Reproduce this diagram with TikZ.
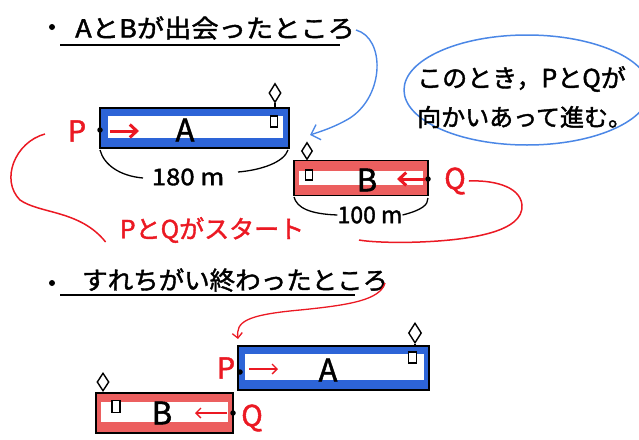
\documentclass[tikz,border=0pt]{standalone}
\usepackage{fontspec}
\setmainfont{Noto Sans CJK JP}[FakeBold=1.6]
\usetikzlibrary{arrows.meta,shapes.geometric}
\definecolor{pblue}{RGB}{45,100,215}
\definecolor{lblue}{RGB}{75,135,230}
\definecolor{pred}{RGB}{235,25,35}
\definecolor{bandred}{RGB}{236,95,95}
\tikzset{
  trainA/.style={draw=black, line width=1.3pt, fill=pblue, inner sep=0pt},
  trainB/.style={draw=black, line width=1.3pt, fill=bandred, inner sep=0pt},
  innerw/.style={fill=white, inner sep=0pt},
  panto/.style={diamond, draw=black, line width=1.4pt, fill=white, inner sep=0pt},
  window/.style={rectangle, draw=black, line width=1.3pt, fill=white, inner sep=0pt},
  bigletter/.style={font=\fontsize{31}{31}\selectfont, inner sep=0pt},
  lab/.style={font=\fontsize{29}{29}\selectfont, text=pred, inner sep=0pt},
  title/.style={font=\fontsize{25}{25}\selectfont, inner sep=0pt},
  dist/.style={font=\fontsize{23}{23}\selectfont, inner sep=0pt},
  dot/.style={circle, fill=black, inner sep=0pt, minimum size=5.5pt},
  bull/.style={circle, fill=black, inner sep=0pt, minimum size=6pt},
  thickred/.style={draw=pred, line width=3pt, -{Straight Barb[length=7pt,width=13pt]}},
  thinred/.style={draw=pred, line width=1.3pt, -{Straight Barb[length=5pt,width=10pt]}},
  brace/.style={draw=black, line width=1.3pt},
  redcurve/.style={draw=pred, line width=1.5pt},
  bluearrow/.style={draw=lblue, line width=1.4pt, -{Straight Barb[length=8pt,width=16pt]}},
}
\begin{document}
\begin{tikzpicture}[x=1pt,y=-1pt]
\useasboundingbox (0,0) rectangle (639,439);
\clip (0,0) rectangle (639,439);

% ---------- title 1
\node[bull] (b1) at (52,27) {};
\node[title, anchor=west] (t1) at (75,28) {\scalebox{1.09}[1]{AとBが出会ったところ}};
\draw[line width=1.1pt] (60,45) -- (340,45);

% ---------- cloud
\draw[lblue, line width=1.5pt] (527,90) ellipse (123pt and 55pt);
\node[font=\fontsize{25}{25}\selectfont, anchor=west, inner sep=0pt] (c1) at (417,79) {このとき，PとQが};
\node[font=\fontsize{24}{24}\selectfont, anchor=west, inner sep=0pt] (c2) at (417,117) {向かいあって進む。};

% ---------- train A (top)
\node[trainA, minimum width=189pt, minimum height=40pt] (A1) at (194.5,128) {};
\node[innerw, minimum width=175pt, minimum height=22pt] (A1in) at (195.5,127) {};
\node[bigletter] (A1t) at (185,130) {A};
\node[panto, minimum width=12pt, minimum height=19pt] (dA1) at (275,93) {};
\draw[line width=1.3pt] (dA1.south) -- (dA1.south |- A1.north);
\node[window, minimum width=7pt, minimum height=11pt] (wA1) at (274,121.5) {};
\node[lab] (P1) at (77,131) {P};
\node[dot] (P1d) at (100,130) {};
\coordinate (P1a) at (110,131);
\coordinate (P1b) at (139,131);
\draw[thickred] (P1a) -- (P1b);
% 180 m
\node[dist] (d180) at (188,177) {\scalebox{1.12}[1]{180 m}};
\coordinate (a1l) at (100,150);
\coordinate (a1r) at (288,150);
\draw[brace] (a1l) .. controls (104,165) and (120,176) .. (143,178);
\draw[brace] (a1r) .. controls (284,162) and (262,170) .. (238,172);

% ---------- train B (top)
\node[trainB, minimum width=134pt, minimum height=35pt] (B1) at (361,178) {};
\node[innerw, minimum width=124pt, minimum height=14pt] (B1in) at (361,178) {};
\node[bigletter] (B1t) at (367,180) {B};
\node[panto, minimum width=11pt, minimum height=17pt] (dB1) at (307,151) {};
\draw[line width=1.3pt] (dB1.south) -- (dB1.south |- B1.north);
\node[window, minimum width=7pt, minimum height=10pt] (wB1) at (309,175) {};
\node[lab] (Q1) at (455,181) {Q};
\node[dot] (Q1d) at (428,179) {};
\coordinate (Q1a) at (425,179);
\coordinate (Q1b) at (397,179);
\draw[thickred] (Q1a) -- (Q1b);
% 100 m
\node[dist] (d100) at (370,215) {100 m};
\coordinate (b1l) at (294,197);
\coordinate (b1r) at (428,198);
\draw[brace] (b1l) .. controls (297,208) and (310,214) .. (d100.west);
\draw[brace] (b1r) .. controls (428,205) and (422,210) .. (d100.east);

% ---------- start label and red curves
\node[font=\fontsize{25}{25}\selectfont, text=pred, inner sep=0pt] (start) at (212,230) {PとQがスタート};
\coordinate (lc0) at (45,134);
\draw[redcurve] (lc0) .. controls (15,142) and (0,180) .. (20,200)
   .. controls (40,214) and (80,210) .. ([xshift=-14pt,yshift=-12pt]start.west);
\coordinate (rc1) at (359,240);
\draw[redcurve] ([xshift=3pt]Q1.east) .. controls (490,180) and (520,185) .. (522,205)
   .. controls (524,232) and (470,240) .. (420,242) .. controls (395,243) and (370,242) .. (rc1);

% ---------- blue connector arrow
\coordinate (ba0) at (356,30);
\coordinate (bat) at (310,135);
\draw[bluearrow] (ba0) .. controls (385,38) and (385,95) .. (350,118) .. controls (335,127) and (322,131) .. (bat);

% ---------- title 2
\node[bull] (b2) at (52,283) {};
\node[title, anchor=west] (t2) at (82,280) {\scalebox{1.02}[1]{すれちがい終わったところ}};
\draw[line width=1.1pt] (60,295) -- (355,295);
\coordinate (ra0) at (385,283);
\coordinate (rat) at (238,339);
\draw[thinred] (ra0) .. controls (380,300) and (350,305) .. (300,310) .. controls (245,315) and (236,322) .. (rat);

% ---------- train A (bottom)
\node[trainA, minimum width=191pt, minimum height=44pt] (A2) at (333.5,368) {};
\node[innerw, minimum width=179pt, minimum height=26pt] (A2in) at (334,367) {};
\node[bigletter] (A2t) at (328,370) {A};
\node[panto, minimum width=13pt, minimum height=20pt] (dA2) at (415,333) {};
\draw[line width=1.3pt] (dA2.south) -- (dA2.south |- A2.north);
\node[window, minimum width=8pt, minimum height=11pt] (wA2) at (412.5,357.5) {};
\node[lab] (P2) at (226,368) {P};
\node[dot] (P2d) at (240,372) {};
\coordinate (P2a) at (249,369);
\coordinate (P2b) at (278,369);
\draw[thinred] (P2a) -- (P2b);

% ---------- train B (bottom)
\node[trainB, minimum width=137pt, minimum height=40pt] (B2) at (164.5,413) {};
\node[innerw, minimum width=127pt, minimum height=20pt] (B2in) at (164.5,412) {};
\node[bigletter] (B2t) at (162,413) {B};
\node[panto, minimum width=12pt, minimum height=18pt] (dB2) at (103,382) {};
\draw[line width=1.3pt] (dB2.south) -- (dB2.south |- B2.north);
\node[window, minimum width=8pt, minimum height=12pt] (wB2) at (116,406.5) {};
\node[lab] (Q2) at (252,418) {Q};
\node[dot] (Q2d) at (233,413) {};
\coordinate (Q2a) at (227,413);
\coordinate (Q2b) at (195,413);
\draw[thinred] (Q2a) -- (Q2b);
\end{tikzpicture}
\end{document}
